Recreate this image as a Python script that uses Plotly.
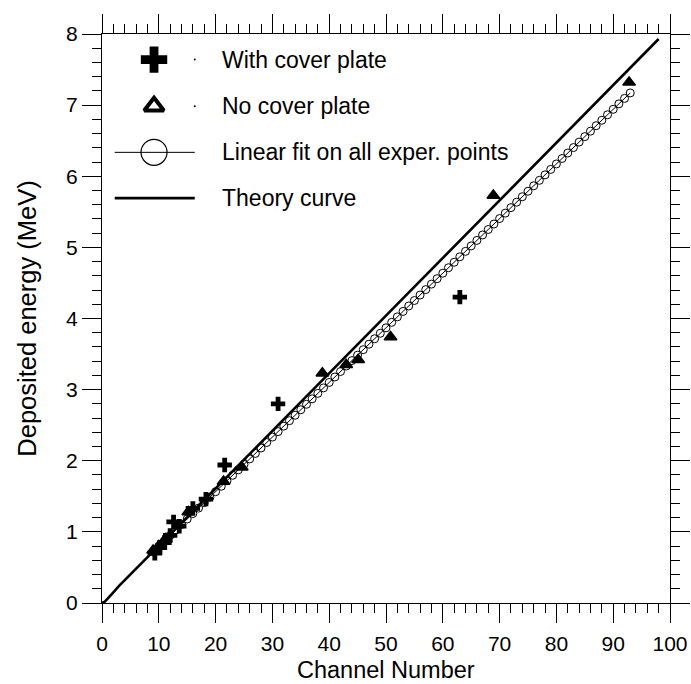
import plotly.graph_objects as go

# ---------------- data ----------------
cover_x = [9.3, 10.2, 11.0, 12.0, 12.6, 13.6, 16.0, 18.3, 21.6, 31.0, 63.0]
cover_y = [0.70, 0.78, 0.85, 0.95, 1.14, 1.08, 1.33, 1.46, 1.94, 2.80, 4.30]

nocover_x = [9.0, 10.0, 11.2, 15.2, 21.4, 24.6, 38.8, 43.0, 45.1, 50.8, 68.9, 92.8]
nocover_y = [0.74, 0.80, 0.90, 1.28, 1.71, 1.91, 3.23, 3.35, 3.42, 3.74, 5.73, 7.32]

# linear fit drawn with a circle at every channel from 9 to 93
fit_slope = 0.0768
fit_intercept = 0.029
fit_first_channel = 9
fit_last_channel = 93

theory_x = [0, 0.5, 1, 1.5, 2, 3, 5, 10, 20, 30, 40, 50, 60, 70, 80, 90, 98]
theory_y = [0, 0.02, 0.06, 0.10, 0.15, 0.24, 0.40, 0.80, 1.61, 2.42, 3.23,
            4.04, 4.85, 5.66, 6.47, 7.28, 7.93]

legend_labels = ["With cover plate", "No cover plate",
                 "Linear fit on all exper. points", "Theory curve"]

x_title = "Channel Number"
y_title = "Deposited energy (MeV)"

# ---------------- figure ----------------
FONT = "Liberation Sans, Arial, sans-serif"
fit_x = list(range(fit_first_channel, fit_last_channel + 1))
fit_y = [fit_intercept + fit_slope * c for c in fit_x]

fig = go.Figure()

fig.add_trace(go.Scatter(
    x=theory_x, y=theory_y, mode="lines",
    line=dict(color="black", width=2.6), showlegend=False))

fig.add_trace(go.Scatter(
    x=fit_x, y=fit_y, mode="lines+markers",
    line=dict(color="black", width=1),
    marker=dict(symbol="circle-open", size=8, color="black",
                line=dict(width=1, color="black")),
    showlegend=False))

fig.add_trace(go.Scatter(
    x=nocover_x, y=nocover_y, mode="markers",
    marker=dict(symbol="triangle-up", size=11, color="black",
                line=dict(width=1.5, color="black")),
    showlegend=False, cliponaxis=False))

fig.add_trace(go.Scatter(
    x=cover_x, y=cover_y, mode="markers",
    marker=dict(symbol="cross", size=12, color="black",
                line=dict(width=0)),
    showlegend=False, cliponaxis=False))

# ---------------- hand-drawn legend (paper-like overlay axes) ----------------
row_y = [0.955, 0.873, 0.792, 0.7115]
sym_x = 0.0916
line_x0, line_x1 = 0.0224, 0.1633
text_x = 0.207

fig.add_trace(go.Scatter(
    x=[sym_x], y=[row_y[0]], xaxis="x2", yaxis="y2", mode="markers",
    marker=dict(symbol="cross", size=22, color="black", line=dict(width=0)),
    showlegend=False, cliponaxis=False))
fig.add_trace(go.Scatter(
    x=[sym_x], y=[row_y[1]], xaxis="x2", yaxis="y2", mode="markers",
    marker=dict(symbol="triangle-up-open", size=17, color="black",
                line=dict(width=4, color="black")),
    showlegend=False, cliponaxis=False))
fig.add_trace(go.Scatter(
    x=[line_x1, line_x1], y=[row_y[0], row_y[1]], xaxis="x2", yaxis="y2",
    mode="markers", marker=dict(symbol="circle", size=2, color="black"),
    showlegend=False, cliponaxis=False))
fig.add_trace(go.Scatter(
    x=[line_x0, line_x1], y=[row_y[2], row_y[2]], xaxis="x2", yaxis="y2",
    mode="lines", line=dict(color="black", width=1),
    showlegend=False, cliponaxis=False))
fig.add_trace(go.Scatter(
    x=[sym_x], y=[row_y[2]], xaxis="x2", yaxis="y2", mode="markers",
    marker=dict(symbol="circle-open", size=26, color="black",
                line=dict(width=1.2, color="black")),
    showlegend=False, cliponaxis=False))
fig.add_trace(go.Scatter(
    x=[line_x0, line_x1], y=[row_y[3], row_y[3]], xaxis="x2", yaxis="y2",
    mode="lines", line=dict(color="black", width=2.8),
    showlegend=False, cliponaxis=False))

annotations = []
for lbl, yy in zip(legend_labels, row_y):
    annotations.append(dict(
        x=text_x, y=yy, xref="paper", yref="paper", text=lbl,
        showarrow=False, xanchor="left", yanchor="middle",
        font=dict(family=FONT, size=23, color="black")))

# x-axis title placed as an annotation so it can sit tight under the labels
annotations.append(dict(
    x=0.5, y=-0.118, xref="paper", yref="paper", text=x_title,
    showarrow=False, xanchor="center", yanchor="middle",
    font=dict(family=FONT, size=23.5, color="black")))

axis_common = dict(
    showgrid=False, zeroline=False, showline=True, linecolor="black",
    linewidth=1.3, mirror="allticks", ticks="outside", ticklen=19,
    tickwidth=1.1, tickcolor="black", automargin=False,
    tickfont=dict(family=FONT, size=21, color="black"),
)

fig.update_layout(
    width=691, height=684,
    margin=dict(l=102, r=21, t=34, b=81),
    paper_bgcolor="white", plot_bgcolor="white",
    font=dict(family=FONT, color="black"),
    annotations=annotations,
    xaxis=dict(
        range=[0, 100], dtick=10, tick0=0,
        minor=dict(ticks="outside", ticklen=9, dtick=2, tickcolor="black",
                   tickwidth=1),
        ticklabelstandoff=3,
        **axis_common),
    yaxis=dict(
        range=[0, 8], dtick=1, tick0=0,
        minor=dict(ticks="outside", ticklen=9, dtick=0.2, tickcolor="black",
                   tickwidth=1),
        title=dict(text=y_title, font=dict(family=FONT, size=25.5),
                   standoff=22),
        **axis_common),
    xaxis2=dict(overlaying="x", range=[0, 1], visible=False),
    yaxis2=dict(overlaying="y", range=[0, 1], visible=False),
)

fig.write_html("out.html")
